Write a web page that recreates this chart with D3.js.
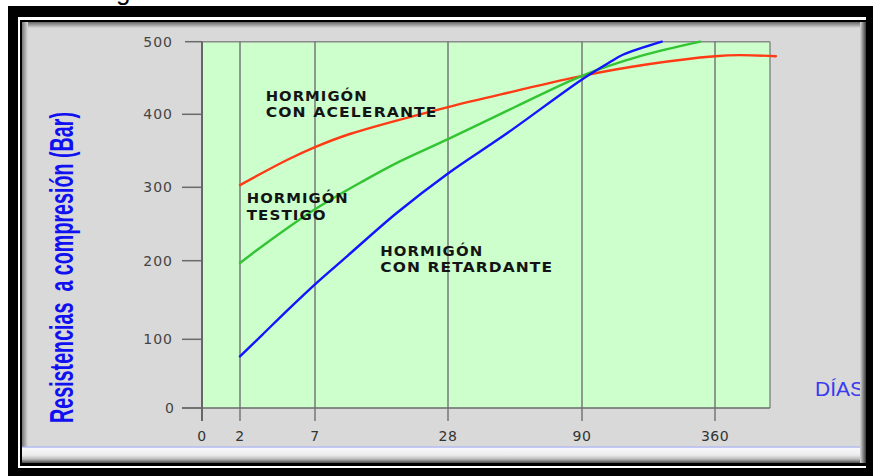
<!DOCTYPE html>
<html><head><meta charset="utf-8">
<script src="https://cdn.jsdelivr.net/npm/d3@7"></script>
<style>body{margin:0;background:#fff;overflow:hidden}svg{display:block}</style>
</head><body><svg id="c" width="873" height="476"></svg>
<script>
// ---- data ----
const xTicks = [0, 2, 7, 28, 90, 360];
const yTicks = [0, 100, 200, 300, 400, 500];
const gridDays = [2, 7, 28, 90, 360];

const aceleranteDias = [2, 5.1, 7, 12.5, 28, 59, 90, 224, 360, 411, 484];
const aceleranteVal  = [303, 337, 355, 373, 410, 432, 453, 469, 480, 481.5, 480];

const testigoDias = [2, 3.5, 7, 14.6, 20.4, 28, 59, 90, 208, 330];
const testigoVal  = [197, 220, 270, 308.5, 335.5, 366, 410, 453, 480, 500];

const retardanteDias = [2, 3.5, 5.33, 7, 12.05, 19.9, 28, 55.3, 90, 147, 173, 252];
const retardanteVal  = [75, 106, 140, 170, 206, 265, 319, 374, 448, 472, 482, 500];

const labelAcelerante = ["HORMIGÓN", "CON ACELERANTE"];
const labelTestigo = ["HORMIGÓN", "TESTIGO"];
const labelRetardante = ["HORMIGÓN", "CON RETARDANTE"];
const yTitle = "Resistencias  a compresión (Bar)";
const xTitle = "DÍAS";

// ---- setup ----
const svg = d3.select("#c");
const defs = svg.append("defs");
function grad(id, x2, y2, stops) {
  const g = defs.append("linearGradient").attr("id", id)
    .attr("x1", 0).attr("y1", 0).attr("x2", x2).attr("y2", y2);
  stops.forEach(s => g.append("stop").attr("offset", s[0]).attr("stop-color", s[1]));
}
grad("gTop", 0, 1, [["0%", "#666"], ["100%", "#d9d9d9"]]);
grad("gLeft", 1, 0, [["0%", "#777"], ["100%", "#d9d9d9"]]);
grad("gRight", 1, 0, [["0%", "#d9d9d9"], ["100%", "#3a3a3a"]]);
grad("gBot", 0, 1, [["0%", "#fafafe"], ["50%", "#ececec"], ["75%", "#bdbdbd"], ["100%", "#4a4a4a"]]);

// frame
svg.append("rect").attr("width", 873).attr("height", 476).attr("fill", "#fff");
svg.append("text").attr("x", 116).attr("y", 0).attr("font-family", "Liberation Sans, Arial, sans-serif")
  .attr("font-size", 26).attr("fill", "#000").text("g");
svg.append("rect").attr("x", 8).attr("y", 6).attr("width", 900).attr("height", 500).attr("fill", "#000");
svg.append("rect").attr("x", 18).attr("y", 17).attr("width", 900).attr("height", 451).attr("fill", "#fff");
svg.append("rect").attr("x", 20).attr("y", 20).attr("width", 900).attr("height", 446).attr("fill", "#000");
svg.append("rect").attr("x", 22).attr("y", 22).attr("width", 844).attr("height", 441).attr("fill", "#d9d9d9");
svg.append("rect").attr("x", 22).attr("y", 22).attr("width", 844).attr("height", 6).attr("fill", "url(#gTop)");
svg.append("rect").attr("x", 22).attr("y", 22).attr("width", 6).attr("height", 425).attr("fill", "url(#gLeft)");
svg.append("rect").attr("x", 22).attr("y", 447).attr("width", 844).attr("height", 16).attr("fill", "url(#gBot)");
svg.append("rect").attr("x", 22).attr("y", 446.5).attr("width", 844).attr("height", 1.2).attr("fill", "#aab2f2");

// ---- scales ----
const x = d3.scaleLinear().domain([0, 2, 7, 28, 90, 360, 472]).range([202, 240, 315, 448, 582, 715, 770]);
const y = d3.scaleLinear().domain(yTicks).range([408, 339.3, 260.7, 187.3, 114.3, 41.7]);
const axisBottomY = 421;

// plot area
svg.append("rect").attr("x", x(0)).attr("y", y(500)).attr("width", x(472) - x(0)).attr("height", y(0) - y(500))
  .attr("fill", "#ccffcc");
svg.append("line").attr("x1", x(0)).attr("x2", x(472)).attr("y1", y(500)).attr("y2", y(500))
  .attr("stroke", "#8a8a8a").attr("stroke-width", 1.5);
svg.append("line").attr("x1", x(472)).attr("x2", x(472)).attr("y1", y(500)).attr("y2", y(0))
  .attr("stroke", "#8a8a8a").attr("stroke-width", 1.5);

// y ticks
const gy = svg.append("g");
gy.selectAll("line.t").data(yTicks).join("line")
  .attr("x1", d => d === 500 ? 185 : 182).attr("x2", x(0))
  .attr("y1", d => y(d)).attr("y2", d => y(d))
  .attr("stroke", "#6a6a6a").attr("stroke-width", 1.5);
gy.selectAll("text").data(yTicks).join("text")
  .attr("x", d => d === 0 ? 175 : 173).attr("y", d => y(d)).attr("dy", "0.36em")
  .attr("text-anchor", "end").attr("font-family", "DejaVu Sans, sans-serif").attr("font-size", 14)
  .attr("letter-spacing", 1).attr("fill", "#444").text(d => d);
svg.append("line").attr("x1", 182).attr("x2", x(472)).attr("y1", y(0)).attr("y2", y(0))
  .attr("stroke", "#6a6a6a").attr("stroke-width", 1.5);

// vertical grid lines + axis line
svg.append("line").attr("x1", x(0)).attr("x2", x(0)).attr("y1", y(500)).attr("y2", axisBottomY)
  .attr("stroke", "#666").attr("stroke-width", 2);
svg.selectAll("line.g").data(gridDays).join("line").attr("class", "g")
  .attr("x1", d => x(d)).attr("x2", d => x(d)).attr("y1", y(500)).attr("y2", axisBottomY)
  .attr("stroke", "#6f6f6f").attr("stroke-width", 1.4);
svg.selectAll("text.xl").data(xTicks).join("text").attr("class", "xl")
  .attr("x", d => x(d)).attr("y", 441).attr("text-anchor", "middle")
  .attr("font-family", "DejaVu Sans, sans-serif").attr("font-size", 14).attr("letter-spacing", 0.5)
  .attr("fill", "#333").text(d => d);

// ---- curves ----
const line = d3.line().x(d => x(d[0])).y(d => y(d[1])).curve(d3.curveCatmullRom.alpha(0.5));
const series = [
  [aceleranteDias, aceleranteVal, "#ff3a14"],
  [testigoDias, testigoVal, "#33c433"],
  [retardanteDias, retardanteVal, "#1414ff"]
];
series.forEach(([ds, vs, col]) => {
  svg.append("path").datum(ds.map((d, i) => [d, vs[i]])).attr("d", line)
    .attr("fill", "none").attr("stroke", col).attr("stroke-width", 2.4).attr("stroke-linecap", "round");
});

// ---- annotations ----
function label(lines, day, val, widths) {
  const t = svg.append("g");
  lines.forEach((s, i) => {
    t.append("text").attr("x", x(day)).attr("y", y(val) + i * 16.2)
      .attr("font-family", "DejaVu Sans, sans-serif").attr("font-weight", "bold")
      .attr("font-size", 14).attr("letter-spacing", 1).attr("fill", "#141414")
      .attr("textLength", widths[i]).attr("lengthAdjust", "spacingAndGlyphs").text(s);
  });
}
label(labelAcelerante, 3.71, 418.7, [102, 172]);
label(labelTestigo, 2.45, 278, [102, 80]);
label(labelRetardante, 17.3, 206.4, [103, 173]);

// axis titles
svg.append("text").attr("transform", "translate(73,267.5) rotate(-90)")
  .attr("text-anchor", "middle").attr("font-family", "Liberation Sans Narrow, Arial Narrow, Liberation Sans, sans-serif")
  .attr("font-weight", "bold").attr("font-size", 33).attr("fill", "#1010f0")
  .style("white-space", "pre")
  .attr("textLength", 311).attr("lengthAdjust", "spacingAndGlyphs").text(yTitle);
svg.append("text").attr("x", 815).attr("y", 396).attr("font-family", "Liberation Sans, Arial, sans-serif")
  .attr("font-size", 21).attr("fill", "#3a3aee").text(xTitle);

// right frame edge on top
svg.append("rect").attr("x", 860).attr("y", 22).attr("width", 6).attr("height", 441).attr("fill", "url(#gRight)");
svg.append("rect").attr("x", 866).attr("y", 6).attr("width", 20).attr("height", 470).attr("fill", "#000");
</script></body></html>
